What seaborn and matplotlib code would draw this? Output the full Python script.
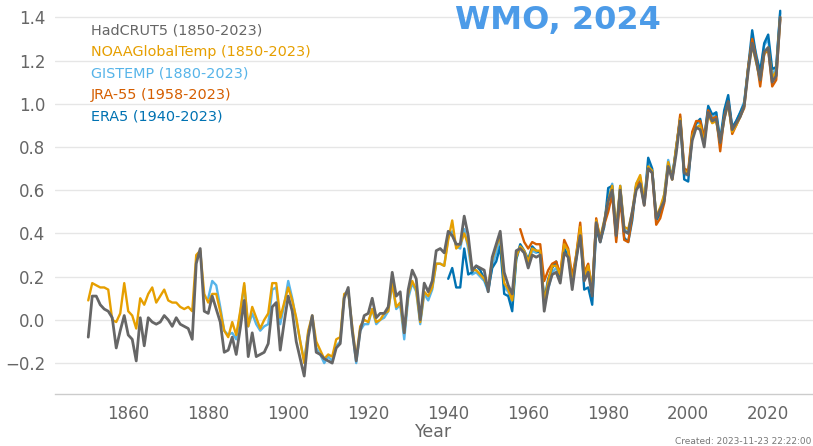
import pandas as pd
import matplotlib.pyplot as plt
import seaborn as sns

# global mean temperature anomaly vs 1850-1900 (deg C)
hadcrut5 = [
    -0.08, 0.11, 0.11, 0.07, 0.05, 0.04, 0.01, -0.13, -0.05, 0.02,
    -0.07, -0.09, -0.19, 0.01, -0.12, 0.01, -0.01, -0.02, -0.01, 0.02,
    0.00, -0.03, 0.01, -0.02, -0.03, -0.04, -0.09, 0.26, 0.33, 0.04,
    0.03, 0.11, 0.05, -0.01, -0.15, -0.14, -0.08, -0.16, -0.04, 0.09,
    -0.17, -0.06, -0.17, -0.16, -0.15, -0.11, 0.06, 0.08, -0.14, -0.01,
    0.11, 0.04, -0.10, -0.18, -0.26, -0.08, 0.02, -0.15, -0.16, -0.18,
    -0.19, -0.20, -0.13, -0.11, 0.10, 0.15, -0.05, -0.19, -0.05, 0.02,
    0.03, 0.10, 0.01, 0.03, 0.03, 0.06, 0.22, 0.11, 0.13, -0.06,
    0.14, 0.23, 0.19, 0.00, 0.17, 0.13, 0.18, 0.32, 0.33, 0.31,
    0.41, 0.39, 0.35, 0.35, 0.48, 0.39, 0.23, 0.25, 0.24, 0.23,
    0.13, 0.29, 0.35, 0.41, 0.22, 0.16, 0.12, 0.32, 0.33, 0.31,
    0.24, 0.30, 0.29, 0.30, 0.04, 0.15, 0.21, 0.22, 0.17, 0.31,
    0.29, 0.14, 0.28, 0.39, 0.18, 0.22, 0.11, 0.45, 0.36, 0.45,
    0.55, 0.60, 0.39, 0.60, 0.41, 0.40, 0.50, 0.60, 0.63, 0.53,
    0.70, 0.68, 0.47, 0.51, 0.55, 0.71, 0.65, 0.77, 0.92, 0.68,
    0.67, 0.83, 0.89, 0.88, 0.80, 0.96, 0.92, 0.93, 0.82, 0.93,
    1.01, 0.88, 0.91, 0.94, 0.99, 1.15, 1.28, 1.20, 1.11, 1.24,
    1.26, 1.10, 1.13, 1.40,
]
noaa = [
    0.09, 0.17, 0.16, 0.15, 0.15, 0.14, 0.00, -0.01, 0.03, 0.17,
    0.04, 0.02, -0.04, 0.10, 0.07, 0.12, 0.15, 0.08, 0.11, 0.14,
    0.09, 0.08, 0.08, 0.06, 0.05, 0.06, 0.04, 0.30, 0.32, 0.12,
    0.08, 0.12, 0.12, 0.04, -0.05, -0.08, -0.01, -0.07, 0.04, 0.17,
    -0.03, 0.06, 0.01, -0.04, 0.00, 0.03, 0.17, 0.17, 0.01, 0.08,
    0.15, 0.09, 0.01, -0.10, -0.20, -0.05, 0.02, -0.10, -0.14, -0.18,
    -0.16, -0.17, -0.09, -0.08, 0.12, 0.13, -0.03, -0.18, -0.03, 0.00,
    -0.01, 0.05, -0.01, 0.00, 0.03, 0.04, 0.17, 0.06, 0.08, -0.06,
    0.12, 0.18, 0.14, -0.01, 0.13, 0.11, 0.15, 0.26, 0.26, 0.25,
    0.37, 0.46, 0.33, 0.35, 0.40, 0.35, 0.23, 0.23, 0.21, 0.19,
    0.15, 0.28, 0.34, 0.39, 0.17, 0.14, 0.09, 0.29, 0.34, 0.32,
    0.27, 0.33, 0.32, 0.32, 0.08, 0.18, 0.25, 0.25, 0.21, 0.35,
    0.32, 0.17, 0.30, 0.43, 0.20, 0.25, 0.14, 0.46, 0.38, 0.46,
    0.55, 0.62, 0.42, 0.62, 0.43, 0.42, 0.50, 0.63, 0.67, 0.55,
    0.71, 0.69, 0.48, 0.52, 0.58, 0.73, 0.65, 0.80, 0.93, 0.69,
    0.68, 0.85, 0.89, 0.90, 0.82, 0.95, 0.91, 0.92, 0.82, 0.93,
    1.00, 0.87, 0.90, 0.94, 0.99, 1.16, 1.27, 1.19, 1.11, 1.23,
    1.26, 1.12, 1.15, 1.40,
]
gistemp = [
    0.10, 0.18, 0.16, 0.06, -0.05, -0.07, -0.06, -0.09, 0.03, 0.16,
    -0.03, 0.03, -0.02, -0.05, -0.03, -0.02, 0.14, 0.15, -0.02, 0.07,
    0.18, 0.10, 0.00, -0.10, -0.19, -0.06, 0.01, -0.13, -0.16, -0.20,
    -0.17, -0.19, -0.12, -0.10, 0.11, 0.14, -0.05, -0.20, -0.05, -0.02,
    -0.02, 0.05, -0.02, 0.00, 0.01, 0.04, 0.17, 0.05, 0.07, -0.09,
    0.10, 0.17, 0.13, -0.02, 0.12, 0.09, 0.14, 0.26, 0.26, 0.25,
    0.38, 0.41, 0.34, 0.33, 0.42, 0.33, 0.21, 0.22, 0.20, 0.18,
    0.13, 0.25, 0.31, 0.37, 0.15, 0.13, 0.07, 0.28, 0.34, 0.31,
    0.26, 0.32, 0.31, 0.32, 0.07, 0.14, 0.22, 0.24, 0.19, 0.33,
    0.30, 0.17, 0.29, 0.42, 0.19, 0.24, 0.14, 0.44, 0.37, 0.45,
    0.56, 0.63, 0.41, 0.61, 0.42, 0.40, 0.49, 0.63, 0.66, 0.55,
    0.72, 0.69, 0.48, 0.50, 0.58, 0.74, 0.66, 0.79, 0.94, 0.67,
    0.67, 0.84, 0.91, 0.91, 0.84, 0.98, 0.93, 0.96, 0.82, 0.95,
    1.02, 0.89, 0.92, 0.96, 1.01, 1.17, 1.30, 1.23, 1.14, 1.27,
    1.30, 1.13, 1.17, 1.42,
]
jra55 = [
    0.42, 0.36,
    0.33, 0.36, 0.35, 0.35, 0.18, 0.23, 0.26, 0.27, 0.21, 0.37,
    0.33, 0.20, 0.30, 0.45, 0.22, 0.26, 0.13, 0.47, 0.37, 0.44,
    0.50, 0.58, 0.36, 0.56, 0.37, 0.36, 0.48, 0.62, 0.64, 0.53,
    0.70, 0.68, 0.44, 0.47, 0.54, 0.72, 0.65, 0.79, 0.95, 0.70,
    0.69, 0.87, 0.92, 0.92, 0.84, 0.97, 0.93, 0.94, 0.78, 0.94,
    1.01, 0.86, 0.90, 0.94, 0.98, 1.17, 1.30, 1.21, 1.08, 1.23,
    1.25, 1.08, 1.11, 1.39,
]
era5 = [
    0.19, 0.24, 0.15, 0.15, 0.33, 0.21, 0.22, 0.25, 0.23, 0.19,
    0.14, 0.24, 0.27, 0.34, 0.12, 0.11, 0.04, 0.28, 0.35, 0.32,
    0.28, 0.34, 0.32, 0.31, 0.09, 0.19, 0.24, 0.27, 0.19, 0.33,
    0.29, 0.18, 0.28, 0.42, 0.14, 0.15, 0.07, 0.42, 0.36, 0.43,
    0.61, 0.62, 0.38, 0.62, 0.38, 0.36, 0.46, 0.62, 0.64, 0.54,
    0.75, 0.70, 0.46, 0.49, 0.56, 0.72, 0.66, 0.80, 0.93, 0.65,
    0.64, 0.86, 0.91, 0.93, 0.84, 0.99, 0.95, 0.96, 0.83, 0.97,
    1.04, 0.89, 0.92, 0.96, 1.00, 1.17, 1.34, 1.22, 1.15, 1.28,
    1.32, 1.16, 1.17, 1.43,
]

labels = ['HadCRUT5 (1850-2023)', 'NOAAGlobalTemp (1850-2023)', 'GISTEMP (1880-2023)',
          'JRA-55 (1958-2023)', 'ERA5 (1940-2023)']
starts = [1850, 1850, 1880, 1958, 1940]
series = [hadcrut5, noaa, gistemp, jra55, era5]
colors = ['#666666', '#E69F00', '#56B4E9', '#D55E00', '#0072B2']

frames = []
for lab, st, vals in zip(labels, starts, series):
    assert len(vals) == 2024 - st, lab
    frames.append(pd.DataFrame({'Year': range(st, 2024), 'Anomaly': vals, 'Dataset': lab}))
df = pd.concat(frames, ignore_index=True)

sns.set_style('white')
fig = plt.figure(figsize=(8.13, 4.46), dpi=100)
ax = fig.add_axes([0.0677, 0.1166, 0.9323, 0.8834])

# draw order: gray HadCRUT5 on top
order = [2, 4, 3, 1, 0]
for i in order:
    sub = df[df['Dataset'] == labels[i]]
    sns.lineplot(data=sub, x='Year', y='Anomaly', color=colors[i],
                 linewidth=2.0 if i == 0 else 1.7, ax=ax, legend=False)

ax.set_xlim(1841.7, 2031.2)
ax.set_ylim(-0.343, 1.48)
ax.set_yticks([-0.2, 0.0, 0.2, 0.4, 0.6, 0.8, 1.0, 1.2, 1.4])
ax.set_yticklabels(['\u22120.2', '0.0', '0.2', '0.4', '0.6', '0.8', '1.0', '1.2', '1.4'])
ax.set_xticks(range(1860, 2021, 20))
ax.grid(axis='y', color='#e6e6e6', linewidth=1.0)
ax.set_axisbelow(True)
for s in ['top', 'right', 'left']:
    ax.spines[s].set_visible(False)
ax.spines['bottom'].set_color('#cccccc')
ax.spines['bottom'].set_linewidth(1.0)
ax.tick_params(axis='y', length=0, pad=7, labelsize=12, labelcolor='#666666')
ax.tick_params(axis='x', length=4, width=1, color='#cccccc', pad=4,
               labelsize=12, labelcolor='#666666')
ax.set_xlabel('Year', fontsize=12.5, color='#666666', labelpad=0)
ax.set_ylabel('')

for k, (lab, col) in enumerate(zip(labels, colors)):
    fig.text(91 / 813, 1 - (30 + 21.7 * k) / 446, lab, color=col,
             fontsize=10.4, va='center', ha='left')

fig.text(455 / 813, 1 - 20 / 446, 'WMO, 2024', color='#4C9BE8', fontsize=23,
         fontweight='bold', va='center', ha='left')
fig.text(811 / 813, 1 - 441 / 446, 'Created: 2023-11-23 22:22:00', color='#777777',
         fontsize=6.5, va='center', ha='right')

fig.savefig('out.png', dpi=100)
